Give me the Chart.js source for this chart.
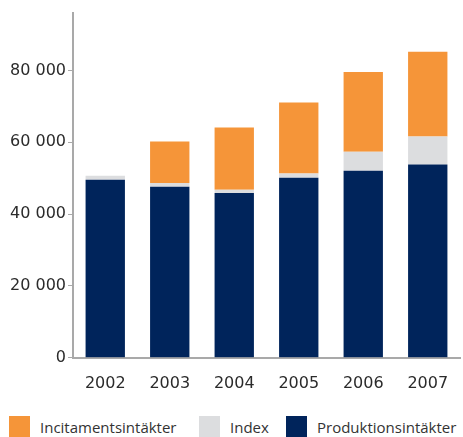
<!DOCTYPE html>
<html>
<head>
<meta charset="utf-8">
<script src="https://cdn.jsdelivr.net/npm/chart.js@4"></script>
<style>
    html, body { margin: 0; padding: 0; background: #fff; }
    #wrap { position: relative; width: 463px; height: 437px; }
    #legend { position: absolute; left: 0; top: 416px; width: 463px; height: 21px;
        font-family: "Open Sans", sans-serif; font-size: 15px; color: #333; }
    .item { position: absolute; top: 0; height: 21px; line-height: 23px; white-space: nowrap; }
    .box { display: inline-block; width: 21px; height: 21px; vertical-align: top; margin-right: 10px; }
</style>
</head>
<body>
<div id="wrap">
    <canvas id="chart" width="463" height="401"></canvas>
    <div id="legend"></div>
</div>
<script>
// Intäkter per år (stapel, staplade)
const years = ['2002', '2003', '2004', '2005', '2006', '2007'];
const produktion = [49600, 47600, 45900, 50100, 52100, 53800];
const index = [1100, 1100, 900, 1200, 5300, 7800];
const incitament = [0, 11500, 17300, 19800, 22200, 23600];
const yTicks = [0, 20000, 40000, 60000, 80000];

const colors = {
    navy: '#00245b',
    grey: '#dcdddf',
    orange: '#f59539',
    axis: '#a9a9a9',
    text: '#2b2b2b'
};

const legendItems = [
    { label: 'Incitamentsintäkter', color: colors.orange, x: 9 },
    { label: 'Index', color: colors.grey, x: 199 },
    { label: 'Produktionsintäkter', color: colors.navy, x: 286 }
];

const ctx = document.getElementById('chart');
new Chart(ctx, {
    type: 'bar',
    data: {
        labels: years,
        datasets: [
            { label: 'Produktionsintäkter', data: produktion, backgroundColor: colors.navy },
            { label: 'Index', data: index, backgroundColor: colors.grey },
            { label: 'Incitamentsintäkter', data: incitament, backgroundColor: colors.orange }
        ]
    },
    options: {
        responsive: false,
        animation: false,
        layout: { padding: { top: 13, right: 3, left: 0, bottom: 0 } },
        datasets: { bar: { categoryPercentage: 1, barPercentage: 0.61 } },
        plugins: {
            legend: { display: false },
            tooltip: { enabled: false }
        },
        scales: {
            x: {
                stacked: true,
                grid: { display: false },
                border: { display: true, color: colors.axis, width: 2 },
                ticks: {
                    color: colors.text,
                    padding: 8,
                    font: { family: 'DejaVu Sans', size: 16 }
                }
            },
            y: {
                stacked: true,
                min: 0,
                max: 96000,
                afterFit(scale) { scale.width = 73; },
                afterBuildTicks(scale) {
                    scale.ticks = yTicks.map(v => ({ value: v }));
                },
                grid: {
                    drawOnChartArea: false,
                    drawTicks: true,
                    tickLength: 5,
                    color: colors.axis
                },
                border: { display: true, color: colors.axis, width: 2 },
                ticks: {
                    color: colors.text,
                    padding: 2,
                    font: { family: 'DejaVu Sans', size: 16 },
                    callback: v => v.toString().replace(/\B(?=(\d{3})+(?!\d))/g, ' ')
                }
            }
        }
    }
});

const legendEl = document.getElementById('legend');
legendItems.forEach(item => {
    const el = document.createElement('div');
    el.className = 'item';
    el.style.left = item.x + 'px';
    el.innerHTML = '<span class="box" style="background:' + item.color + '"></span>' + item.label;
    legendEl.appendChild(el);
});
</script>
</body>
</html>
